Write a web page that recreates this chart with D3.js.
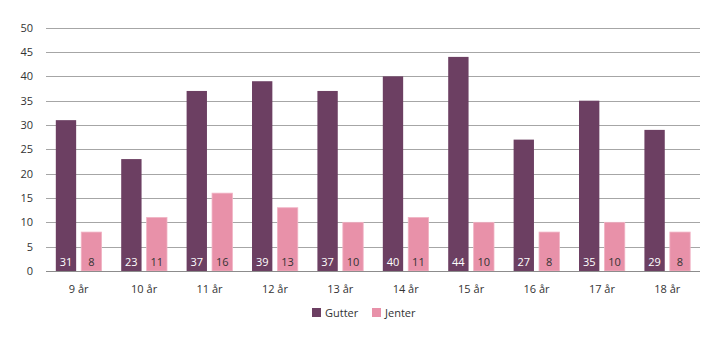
<!DOCTYPE html>
<html><head><meta charset="utf-8">
<script src="https://cdn.jsdelivr.net/npm/d3@7"></script>
<style>body{margin:0;background:#fff}svg{display:block;font-family:"Open Sans",sans-serif}</style>
</head><body><svg id="c" width="720" height="341"></svg>
<script>
const categories = ["9 år","10 år","11 år","12 år","13 år","14 år","15 år","16 år","17 år","18 år"];
const gutter = [31,23,37,39,37,40,44,27,35,29];
const jenter = [8,11,16,13,10,11,10,8,10,8];
const seriesNames = ["Gutter","Jenter"];
const yTicks = [0,5,10,15,20,25,30,35,40,45,50];
const colors = ["#6c3f62","#e891a9"];

(function(){
const svg = d3.select("#c");
const left = 46, right = 700, topY = 27.7, bottom = 271;
const x = d3.scaleBand().domain(categories).range([left,right]).paddingInner(0.3).paddingOuter(0.15);
const x1 = d3.scaleBand().domain(seriesNames).range([0,x.bandwidth()]).paddingInner(0.2);
const y = d3.scaleLinear().domain([0,50]).range([bottom,topY]);

const grid = svg.append("g");
grid.selectAll("line").data(yTicks.filter(d=>d>0)).join("line")
  .attr("x1",left).attr("x2",right).attr("y1",d=>Math.round(y(d))+0.5).attr("y2",d=>Math.round(y(d))+0.5)
  .attr("stroke","#a6a6a6").attr("stroke-width",1);

const yAxis = d3.axisLeft(y).tickValues(yTicks).tickSize(0).tickPadding(13);
svg.append("g").attr("transform",`translate(${left},0)`).call(yAxis)
  .call(g=>g.select(".domain").remove())
  .selectAll("text").attr("font-size",11).attr("fill","#333").attr("font-family","Open Sans");

const data = categories.map((c,i)=>({c, vals:[{s:"Gutter",v:gutter[i]},{s:"Jenter",v:jenter[i]}]}));
const groups = svg.append("g").selectAll("g").data(data).join("g").attr("transform",d=>`translate(${x(d.c)},0)`);
groups.selectAll("rect").data(d=>d.vals).join("rect")
  .attr("x",d=>x1(d.s)).attr("width",x1.bandwidth())
  .attr("y",d=>y(d.v)).attr("height",d=>y(0)-y(d.v))
  .attr("fill",(d,i)=>colors[i])
  .attr("stroke",(d,i)=>i===1?"#f1b3c4":"none").attr("stroke-width",0.8);
groups.selectAll("text").data(d=>d.vals).join("text")
  .attr("x",d=>x1(d.s)+x1.bandwidth()/2).attr("y",bottom-5)
  .attr("text-anchor","middle").attr("font-size",11)
  .attr("fill",(d,i)=>i===0?"#fff":"#333").text(d=>d.v);

svg.append("line").attr("x1",left).attr("x2",right).attr("y1",bottom+0.5).attr("y2",bottom+0.5).attr("stroke","#8c8c8c");

const xAxis = d3.axisBottom(x).tickSize(0).tickPadding(14);
svg.append("g").attr("transform",`translate(0,${bottom})`).call(xAxis)
  .call(g=>g.select(".domain").remove())
  .selectAll("text").attr("font-size",11).attr("fill","#333").attr("font-family","Open Sans");

const leg = svg.append("g").attr("transform","translate(312,308)");
const lx = [0,60];
seriesNames.forEach((s,i)=>{
  leg.append("rect").attr("x",lx[i]).attr("y",0).attr("width",9).attr("height",9).attr("fill",colors[i]);
  leg.append("text").attr("x",lx[i]+13).attr("y",8.5).attr("font-size",11).attr("fill","#333").text(s);
});
})();
</script></body></html>
